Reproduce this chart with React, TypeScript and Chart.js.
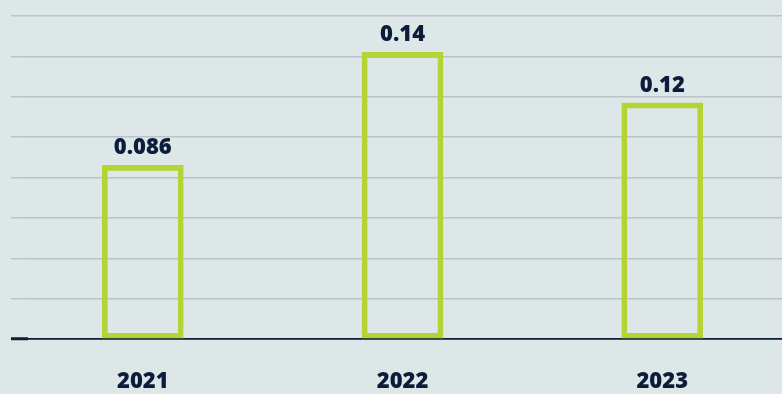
import React, { useEffect, useRef } from "react";
import { Chart, registerables } from "chart.js";

Chart.register(...registerables);

const years = ["2021", "2022", "2023"];
const values = [0.086, 0.142, 0.117];
const valueLabels = ["0.086", "0.14", "0.12"];
const yTicks = [0, 0.02, 0.04, 0.06, 0.08, 0.1, 0.12, 0.14, 0.16];

const BG = "#dee7e7";
const GREEN = "#b5d334";
const NAVY = "#0c1d3b";
const GRID = "#b8c4c9";
const FONT = "'Open Sans', 'Noto Sans', sans-serif";

const valueLabelPlugin = {
  id: "valueLabels",
  afterDatasetsDraw(chart: any) {
    const { ctx } = chart;
    const meta = chart.getDatasetMeta(0);
    ctx.save();
    ctx.font = `800 22px ${FONT}`;
    ctx.fillStyle = NAVY;
    ctx.textAlign = "center";
    ctx.textBaseline = "alphabetic";
    meta.data.forEach((bar: any, i: number) => {
      ctx.fillText(valueLabels[i], bar.x, bar.y - 11);
    });
    ctx.restore();
  },
};

export default function App() {
  const ref = useRef<HTMLCanvasElement>(null);

  useEffect(() => {
    if (!ref.current) return;
    const chart = new Chart(ref.current, {
      type: "bar",
      data: {
        datasets: [
          {
            data: values.map((v, i) => ({ x: i, y: v })),
            backgroundColor: "rgba(0,0,0,0)",
            borderColor: GREEN,
            borderWidth: 5,
            borderSkipped: false,
            barThickness: 81,
          },
        ],
      },
      options: {
        responsive: false,
        animation: false,
        layout: { padding: { left: 11, top: 16, right: 0, bottom: 0 } },
        plugins: {
          legend: { display: false },
          tooltip: { enabled: false },
        },
        scales: {
          x: {
            type: "linear",
            offset: false,
            min: -0.442,
            max: 2.461,
            afterBuildTicks: (scale: any) => {
              scale.ticks = years.map((_, i) => ({ value: i }));
            },
            afterFit: (scale: any) => {
              scale.height = 55;
            },
            grid: { display: false, drawTicks: false, offset: false },
            border: { display: true, color: NAVY, width: 1.5 },
            ticks: {
              padding: 30,
              color: NAVY,
              font: { family: FONT, size: 22, weight: "800" },
              callback: (v: any) => years[v] ?? "",
            },
          },
          y: {
            min: 0,
            max: 0.16,
            afterBuildTicks: (scale: any) => {
              scale.ticks = yTicks.map((v) => ({ value: v }));
            },
            afterFit: (scale: any) => {
              scale.width = 17;
            },
            border: { display: false },
            grid: {
              color: (c: any) => (c.tick && c.tick.value === 0 ? NAVY : GRID),
              lineWidth: 1.5,
              drawTicks: true,
              tickLength: 17,
              tickColor: (c: any) => (c.tick && c.tick.value === 0 ? NAVY : GRID),
              tickWidth: (c: any) => (c.tick && c.tick.value === 0 ? 3 : 1.5),
            },
            ticks: { display: false },
          },
        },
      },
      plugins: [valueLabelPlugin],
    });
    return () => chart.destroy();
  }, []);

  return (
    <div
      style={{
        position: "absolute",
        left: 0,
        top: 0,
        width: 782,
        height: 394,
        background: BG,
        overflow: "hidden",
      }}
    >
      <canvas ref={ref} width={782} height={394} />
    </div>
  );
}
